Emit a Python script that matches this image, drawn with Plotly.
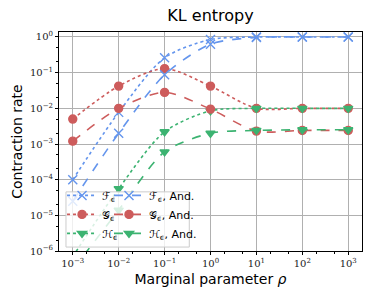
import plotly.graph_objects as go

rho = [1e-3, 1e-2, 1e-1, 1e0, 1e1, 1e2, 1e3]

F_eps = [1e-4, 7.7e-3, 0.26, 0.85, 1.0, 1.0, 1.0]
F_and = [2.5e-5, 2.0e-3, 0.087, 0.63, 0.97, 1.0, 1.0]
G_eps = [5.0e-3, 0.042, 0.13, 0.042, 0.010, 0.010, 0.010]
G_and = [1.2e-3, 0.010, 0.028, 0.0095, 0.0023, 0.0024, 0.0024]
H_eps = [7e-7, 5.6e-5, 2.2e-3, 8.5e-3, 0.010, 0.010, 0.010]
H_and = [3e-7, 1.4e-5, 6.0e-4, 2.0e-3, 2.4e-3, 2.5e-3, 2.5e-3]

x_tickvals = [1e-3, 1e-2, 1e-1, 1e0, 1e1, 1e2, 1e3]
x_ticktext = ["10<sup>−3</sup>", "10<sup>−2</sup>", "10<sup>−1</sup>", "10<sup>0</sup>",
              "10<sup>1</sup>", "10<sup>2</sup>", "10<sup>3</sup>"]
y_tickvals = [1e-6, 1e-5, 1e-4, 1e-3, 1e-2, 1e-1, 1e0]
y_ticktext = ["10<sup>−6</sup>", "10<sup>−5</sup>", "10<sup>−4</sup>", "10<sup>−3</sup>",
              "10<sup>−2</sup>", "10<sup>−1</sup>", "10<sup>0</sup>"]

BLUE = "#6495ED"
RED = "#CD5C5C"
GREEN = "#3CB371"

series = [
    ("ℱ<sub>ϵ</sub>", F_eps, BLUE, "x-thin-open", "dot", "legend"),
    ("𝒢<sub>ϵ</sub>", G_eps, RED, "circle", "dot", "legend"),
    ("ℋ<sub>ϵ</sub>", H_eps, GREEN, "triangle-down", "dot", "legend"),
    ("ℱ<sub>ϵ</sub>, And.", F_and, BLUE, "x-thin-open", "dash", "legend2"),
    ("𝒢<sub>ϵ</sub>, And.", G_and, RED, "circle", "dash", "legend2"),
    ("ℋ<sub>ϵ</sub>, And.", H_and, GREEN, "triangle-down", "dash", "legend2"),
]

fig = go.Figure()
for name, ys, col, sym, dash, lg in series:
    msize = 9 if sym == "x-thin-open" else 8
    fig.add_trace(go.Scatter(
        x=rho, y=ys, name=name, mode="lines+markers",
        line=dict(color=col, width=1.6, dash=dash, shape="spline", smoothing=0.8),
        marker=dict(symbol=sym, size=msize, color=col,
                    line=dict(color=col, width=1.4)),
        legend=lg, cliponaxis=True,
    ))

tickfont = dict(family="DejaVu Serif", size=10, color="#222")
legfont = dict(family="DejaVu Sans", size=11, color="black")
fig.update_layout(
    width=374, height=299,
    margin=dict(l=59, r=12, t=32, b=48, autoexpand=False),
    paper_bgcolor="white", plot_bgcolor="white",
    title=dict(text="KL entropy", x=0.5, xanchor="center", xref="paper",
               y=0.948, yanchor="middle",
               font=dict(family="DejaVu Sans", size=16, color="black")),
    font=dict(family="DejaVu Sans", size=11, color="black"),
    xaxis=dict(type="log", range=[-3.30, 3.30], automargin=False,
               tickvals=x_tickvals, ticktext=x_ticktext, tickfont=tickfont,
               showgrid=True, gridcolor="#b0b0b0", gridwidth=1,
               showline=True, linecolor="black", linewidth=1, mirror=True,
               ticks="outside", ticklen=3, tickcolor="black",
               minor=dict(ticks="outside", ticklen=2, tickcolor="black", showgrid=False),
               zeroline=False,
               title=dict(text="Marginal parameter <i>ρ</i>",
                          font=dict(family="DejaVu Sans", size=14), standoff=6)),
    yaxis=dict(type="log", range=[-6, 0.14], automargin=False,
               tickvals=y_tickvals, ticktext=y_ticktext, tickfont=tickfont,
               showgrid=True, gridcolor="#b0b0b0", gridwidth=1,
               showline=True, linecolor="black", linewidth=1, mirror=True,
               ticks="outside", ticklen=3, tickcolor="black",
               minor=dict(ticks="outside", ticklen=2, tickcolor="black", showgrid=False),
               zeroline=False,
               title=dict(text="Contraction rate",
                          font=dict(family="DejaVu Sans", size=14), standoff=4)),
    legend=dict(x=0.01, y=0.32, xanchor="left", yanchor="top",
                bgcolor="rgba(0,0,0,0)", borderwidth=0,
                font=legfont, tracegroupgap=0, itemwidth=30),
    legend2=dict(x=0.165, y=0.32, xanchor="left", yanchor="top",
                 bgcolor="rgba(0,0,0,0)", borderwidth=0,
                 font=legfont, tracegroupgap=0, itemwidth=30),
    shapes=[dict(type="rect", xref="paper", yref="paper",
                 x0=0.023, x1=0.43, y0=0.018, y1=0.27,
                 fillcolor="rgba(255,255,255,0.8)",
                 line=dict(color="#cccccc", width=1), layer="above")],
    showlegend=True,
)

fig.write_html("out.html", post_script="document.body.style.margin='0';",
               config={"displayModeBar": False})
